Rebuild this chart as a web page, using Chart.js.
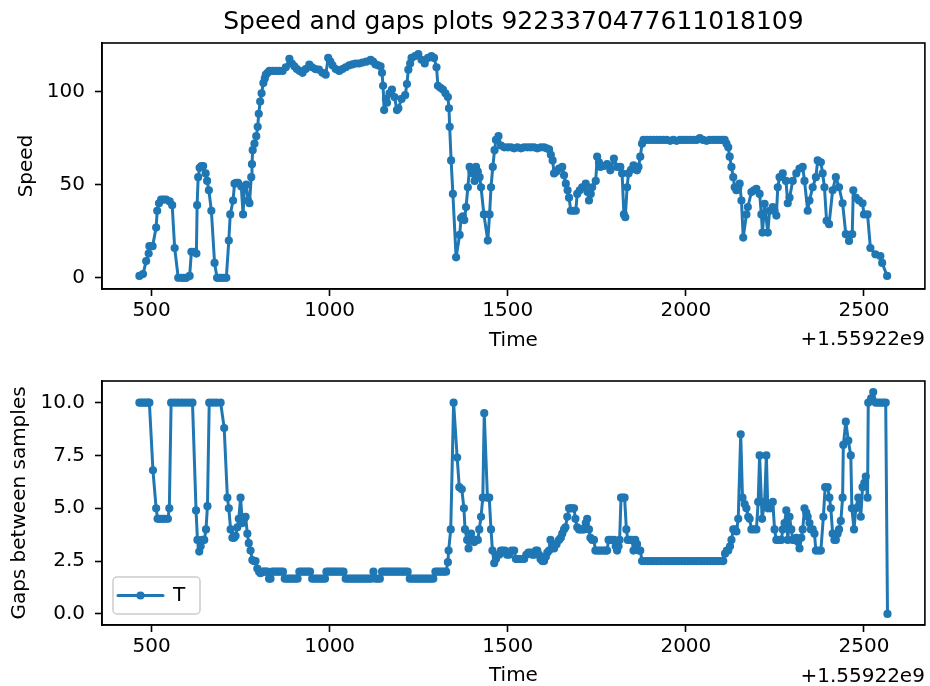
<!DOCTYPE html>
<html>
<head>
<meta charset="utf-8">
<script src="https://cdn.jsdelivr.net/npm/chart.js@4.4.1/dist/chart.umd.min.js"></script>
<style>
html,body{margin:0;padding:0;background:#fff;overflow:hidden;width:930px;height:686px;}
canvas{position:absolute;left:0;}
#c1{top:0;}
#c2{top:355px;}
</style>
</head>
<body>
<canvas id="c1" width="930" height="351"></canvas>
<canvas id="c2" width="930" height="331"></canvas>
<script>
// ---------- data ----------
const TITLE = 'Speed and gaps plots 9223370477611018109';
const OFFSET_TEXT = '+1.55922e9';
const timeTicks = [500, 1000, 1500, 2000, 2500];
const speedTicks = [0, 50, 100];
const gapTicks = [0, 2.5, 5, 7.5, 10];

const speedTime = [
 466,476,485,492,494,503,513,516,521,527,534,541,551,558,565,575,584,591,598,607,
 612,619,626,628,631,635,640,645,652,656,661,668,677,684,690,696,703,710,717,721,
 729,733,738,743,752,757,761,766,771,775,780,782,784,789,794,798,801,805,809,814,
 818,821,826,831,840,849,858,868,877,887,894,901,908,916,924,933,943,951,960,970,
 980,989,996,1002,1008,1017,1027,1036,1045,1055,1064,1073,1082,1092,1103,1115,1122,1129,1136,1143,
 1147,1150,1153,1158,1161,1168,1175,1182,1189,1193,1202,1212,1217,1221,1226,1230,1240,1249,1258,1267,
 1276,1286,1293,1300,1304,1311,1318,1325,1332,1335,1337,1341,1346,1355,1365,1369,1374,1378,1383,1388,
 1393,1398,1402,1407,1411,1416,1421,1425,1433,1444,1449,1453,1458,1463,1467,1474,1481,1490,1500,1509,
 1518,1527,1537,1546,1556,1565,1574,1583,1593,1602,1609,1616,1621,1626,1630,1637,1644,1653,1658,1663,
 1668,1672,1677,1684,1691,1695,1702,1709,1719,1724,1728,1733,1737,1747,1751,1756,1760,1770,1779,1788,
 1798,1807,1816,1821,1826,1830,1835,1839,1846,1853,1863,1867,1872,1877,1881,1890,1900,1909,1918,1928,
 1937,1946,1956,1965,1974,1984,1993,2002,2011,2021,2030,2039,2048,2058,2067,2077,2086,2095,2102,2109,
 2114,2119,2123,2128,2133,2137,2142,2147,2151,2156,2161,2170,2174,2184,2191,2198,2207,2212,2215,2221,
 2230,2235,2244,2249,2254,2258,2263,2272,2281,2286,2291,2300,2310,2319,2328,2333,2342,2347,2356,2365,
 2370,2379,2384,2389,2395,2402,2412,2421,2430,2440,2449,2458,2467,2470,2477,2486,2496,2500,2510,2518,
 2532,2546,2551,2565
];
const speedValue = [
 1,2,9,13,17,17,27,36,40,42,42,42,41,39,16,0,0,0,0,1,
 14,14,13,39,54,59,60,60,56,52,47,36,8,0,0,0,0,0,20,34,
 41.5,50.5,51,51,49,34,49,50,41.5,40,54,61,68.5,72,76,81,88,94.6,99,104.5,
 107,109,110,111,111,111,111,111,113,117.5,115,113.5,112,111,110,112,114.4,113,112,111.7,
 110,109,118,116,114,112,111,112,113,114,114.5,115,115,115.5,116,117,116,114.5,114,113.5,
 110,103,90,96,94,99,101,97,90,91,96,98,104,111.7,115,118,119,120,117,115,
 118,119,118,113,103,102,101,99,97,91,81,63,45,11,23,32,33,31,38,48.6,
 59.5,57,56,52,59.5,57,54,48.6,34,20,34,48.6,59.5,68.5,74,76,71,70,70,70,
 69.5,70,69.5,70,70,70,70,69.5,70,70,69.5,69,66,63,56,57,58.6,59.5,55,50.5,
 47,43,36,36,36,45,47,48.6,50.5,46,41.5,45,48.6,52,65,62,59.5,60,61,57.7,
 64,59.5,59.5,56,34,32.5,48.6,56,58,60.4,57.7,59.5,65,72,74,74,74,74,74,74,
 74,74,73.5,74,73.5,74,74,74,74,74,74,75,74,73.5,74,74,74,74,74,74,
 72,70,65,59.5,54,48.6,47,48,50.5,41.5,21.6,34,38,46,47,47.8,45,34,24.3,39.7,
 24.3,36,38,36,33.4,48.6,54,56,52,40,43,52,56,58.6,59.5,52,36,41.5,48.6,54,
 63,62,56,48.6,30.6,28.8,47,54,48.6,40,23.4,19.8,23.4,47,43,41.5,40,34,34,16,
 12.6,11.7,8,1
];

const gapTime = [
 466,472,478,484,490,494,504,513,517,523,530,537,546,550,555,565,575,585,595,605,
 615,625,629,634,638,643,648,653,657,662,672,682,694,704,713,717,722,727,732,736,
 741,745,750,755,760,764,769,773,778,783,787,792,797,802,806,811,816,820,825,830,
 834,839,845,851,857,863,869,874,880,886,892,898,904,910,915,921,927,933,939,945,
 951,957,963,969,975,981,987,991,997,1003,1009,1015,1021,1027,1033,1039,1045,1051,1057,1063,
 1069,1075,1081,1087,1093,1099,1105,1111,1117,1123,1129,1135,1141,1147,1153,1159,1165,1171,1177,1183,
 1189,1195,1201,1207,1213,1219,1225,1231,1237,1243,1249,1255,1261,1267,1273,1279,1285,1291,1297,1303,
 1309,1315,1321,1327,1332,1334,1340,1348,1358,1364,1371,1377,1380,1386,1390,1397,1402,1406,1411,1416,
 1420,1425,1430,1434,1443,1448,1453,1457,1462,1467,1472,1476,1481,1486,1492,1498,1504,1511,1518,1523,
 1527,1535,1541,1546,1552,1558,1564,1569,1574,1579,1583,1588,1592,1597,1602,1607,1611,1616,1620,1625,
 1630,1637,1644,1649,1653,1658,1662,1667,1672,1677,1681,1686,1690,1695,1700,1704,1709,1714,1719,1723,
 1728,1732,1737,1742,1746,1752,1758,1764,1770,1775,1779,1783,1790,1798,1803,1807,1811,1814,1818,1823,
 1828,1833,1837,1843,1849,1853,1858,1863,1868,1872,1877,1885,1893,1901,1909,1917,1925,1933,1941,1949,
 1957,1965,1973,1981,1989,1997,2005,2013,2021,2029,2037,2045,2053,2061,2069,2077,2085,2093,2100,2105,
 2110,2115,2119,2124,2128,2133,2138,2142,2147,2154,2159,2165,2170,2175,2179,2184,2191,2198,2203,2207,
 2214,2221,2226,2230,2237,2244,2249,2254,2261,2268,2272,2277,2282,2286,2291,2296,2300,2305,2310,2315,
 2319,2324,2328,2333,2338,2342,2347,2351,2356,2361,2365,2372,2379,2386,2391,2398,2403,2407,2412,2417,
 2421,2426,2430,2435,2440,2442,2449,2456,2463,2466,2472,2477,2484,2491,2496,2501,2505,2510,2512,2520,
 2526,2533,2540,2547,2554,2561,2566
];
const gapValue = [
 10,10,10,10,10,10,6.8,5.0,4.5,4.5,4.5,4.5,4.5,5.0,10,10,10,10,10,10,
 10,4.9,3.5,2.95,3.2,3.5,3.5,4.0,5.1,10,10,10,10,8.8,5.5,5.0,4.0,3.6,3.6,3.7,
 4.1,4.5,5.5,4.3,4.5,4.6,3.8,3.35,3.0,2.55,2.5,2.5,2.15,2.0,1.93,2.0,2.0,2.0,2.0,1.67,
 1.67,2.0,2.0,2.0,2.0,2.0,2.0,1.67,1.67,1.67,1.67,1.67,1.67,1.67,2.0,2.0,2.0,2.0,2.0,2.0,
 1.67,1.67,1.67,1.67,1.67,1.67,1.67,2.0,2.0,2.0,2.0,2.0,2.0,2.0,2.0,2.0,1.67,1.67,1.67,1.67,
 1.67,1.67,1.67,1.67,1.67,1.67,1.67,1.67,1.67,2.0,1.67,1.67,1.67,2.0,2.0,2.0,2.0,2.0,2.0,2.0,
 2.0,2.0,2.0,2.0,2.0,2.0,1.67,1.67,1.67,1.67,1.67,1.67,1.67,1.67,1.67,1.67,1.67,1.67,2.0,2.0,
 2.0,2.0,2.0,2.0,2.45,3.0,4.0,10.0,7.4,6.0,5.9,5.0,4.0,3.5,3.1,3.8,3.5,3.4,3.5,3.5,
 4.0,4.6,5.5,9.5,5.5,5.5,4.0,3.0,2.4,2.6,2.8,2.8,3.0,3.0,3.0,2.8,2.8,3.0,3.0,2.6,
 2.6,2.6,2.6,2.6,2.8,2.9,2.9,2.8,2.8,3.0,3.0,2.8,2.6,2.5,2.5,2.7,2.9,3.0,3.5,3.3,
 3.1,3.3,3.5,3.6,3.8,4.0,4.1,4.6,5.0,5.0,5.0,5.0,4.5,4.1,4.0,4.0,4.0,4.0,4.3,4.5,
 4.0,3.6,3.5,3.5,3.0,3.0,3.0,3.0,3.0,3.0,3.0,3.5,3.5,3.5,3.2,3.0,3.2,3.5,5.5,5.5,
 5.5,4.0,3.5,3.5,3.5,3.0,3.5,3.3,3.0,3.0,2.5,2.5,2.5,2.5,2.5,2.5,2.5,2.5,2.5,2.5,
 2.5,2.5,2.5,2.5,2.5,2.5,2.5,2.5,2.5,2.5,2.5,2.5,2.5,2.5,2.5,2.5,2.5,2.5,2.5,2.5,
 2.85,3.0,3.0,3.2,3.5,4.0,4.0,3.9,4.5,8.5,5.5,5.2,5.0,4.6,4.5,4.0,4.0,4.0,5.3,7.5,
 4.5,5.3,7.5,5.0,5.0,5.3,4.0,3.5,3.5,3.5,4.0,4.3,4.9,3.5,4.6,4.0,3.5,3.5,3.6,3.4,
 3.1,3.6,4.0,5.0,4.8,4.6,4.3,4.0,4.0,3.8,3.0,3.0,3.0,4.6,6.0,6.0,5.5,5.0,3.8,3.5,
 3.5,3.8,4.0,4.4,5.5,8.0,9.1,8.2,7.5,5.0,4.0,5.0,5.5,4.6,6.0,6.2,6.5,5.5,10.0,10.2,
 10.5,10.0,10.0,10.0,10.0,10.0,0.0
];

// ---------- helpers ----------
const FONT = "'DejaVu Sans', 'Liberation Sans', sans-serif";
const BLUE = '#1f77b4';
function pts(xs, ys) { return xs.map((x, i) => ({ x: x, y: ys[i] })); }
function padRange(vals) {
  const lo = Math.min(...vals), hi = Math.max(...vals), m = (hi - lo) * 0.05;
  return [lo - m, hi + m];
}
const xr = padRange(speedTime.concat(gapTime));
const yrSpeed = padRange(speedValue);
const yrGap = padRange(gapValue);

const framePlugin = {
  id: 'frame',
  afterDatasetsDraw(chart) {
    const a = chart.chartArea, ctx = chart.ctx;
    ctx.save();
    ctx.strokeStyle = '#000';
    ctx.lineWidth = 1.6;
    ctx.strokeRect(a.left, a.top, a.right - a.left, a.bottom - a.top);
    ctx.restore();
  }
};
const offsetPlugin = {
  id: 'offsetText',
  afterDraw(chart, args, opts) {
    const ctx = chart.ctx;
    ctx.save();
    ctx.font = '20px ' + FONT;
    ctx.fillStyle = '#000';
    ctx.textAlign = 'right';
    ctx.textBaseline = 'middle';
    ctx.fillText(opts.text, chart.chartArea.right, opts.y);
    ctx.restore();
  }
};
const boxLegendPlugin = {
  id: 'boxLegend',
  afterDraw(chart, args, opts) {
    if (!opts.show) return;
    const ctx = chart.ctx, ds = chart.data.datasets[0];
    const x = opts.x, y = opts.y, w = opts.w, h = opts.h, r = 4;
    ctx.save();
    ctx.beginPath();
    ctx.moveTo(x + r, y); ctx.lineTo(x + w - r, y); ctx.arcTo(x + w, y, x + w, y + r, r);
    ctx.lineTo(x + w, y + h - r); ctx.arcTo(x + w, y + h, x + w - r, y + h, r);
    ctx.lineTo(x + r, y + h); ctx.arcTo(x, y + h, x, y + h - r, r);
    ctx.lineTo(x, y + r); ctx.arcTo(x, y, x + r, y, r);
    ctx.closePath();
    ctx.fillStyle = 'rgba(255,255,255,0.8)';
    ctx.fill();
    ctx.strokeStyle = '#cccccc';
    ctx.lineWidth = 1.5;
    ctx.stroke();
    const cy = y + h / 2;
    ctx.strokeStyle = ds.borderColor;
    ctx.lineWidth = ds.borderWidth;
    ctx.lineCap = 'round';
    ctx.beginPath(); ctx.moveTo(x + 5, cy); ctx.lineTo(x + 50, cy); ctx.stroke();
    ctx.fillStyle = ds.pointBackgroundColor;
    ctx.lineWidth = ds.pointBorderWidth;
    ctx.beginPath(); ctx.arc(x + 27.5, cy, ds.pointRadius, 0, Math.PI * 2); ctx.fill(); ctx.stroke();
    ctx.fillStyle = '#000';
    ctx.font = '20px ' + FONT;
    ctx.textAlign = 'left';
    ctx.textBaseline = 'middle';
    ctx.fillText(ds.label, x + 60, cy);
    ctx.restore();
  }
};

function dataset(label, xs, ys) {
  return {
    label: label,
    data: pts(xs, ys),
    borderColor: BLUE,
    backgroundColor: BLUE,
    pointBackgroundColor: BLUE,
    pointBorderColor: BLUE,
    borderWidth: 3,
    borderJoinStyle: 'round',
    borderCapStyle: 'round',
    pointRadius: 3.1,
    pointBorderWidth: 2,
    pointHoverRadius: 3.1,
    tension: 0
  };
}

function axisCommon() {
  return {
    type: 'linear',
    grid: { drawOnChartArea: false, drawTicks: true, tickLength: 7, tickWidth: 1.6, tickColor: '#000' },
    border: { display: true, color: '#000', width: 1.6 }
  };
}

function makeChart(id, cfg) {
  const x = Object.assign(axisCommon(), {
    min: xr[0], max: xr[1],
    afterBuildTicks: s => { s.ticks = timeTicks.map(v => ({ value: v })); },
    afterFit: s => { s.height = cfg.xAxisHeight; },
    ticks: { font: { family: FONT, size: 20 }, color: '#000', padding: 3, maxRotation: 0, autoSkip: false,
             callback: v => String(v) },
    title: { display: true, text: 'Time', color: '#000', font: { family: FONT, size: 20, lineHeight: 1 },
             padding: { top: 0, bottom: 0 } }
  });
  const y = Object.assign(axisCommon(), {
    min: cfg.yRange[0], max: cfg.yRange[1],
    afterBuildTicks: s => { s.ticks = cfg.yTicks.map(v => ({ value: v })); },
    afterFit: s => { s.width = 102; },
    ticks: { font: { family: FONT, size: 20 }, color: '#000', padding: 10, autoSkip: false,
             callback: cfg.yFmt },
    title: { display: true, text: cfg.yTitle, color: '#000', font: { family: FONT, size: 20, lineHeight: 1 },
             padding: { top: cfg.yTitlePad, bottom: 0 } }
  });
  return new Chart(document.getElementById(id), {
    type: 'line',
    data: { datasets: [dataset(cfg.label, cfg.xs, cfg.ys)] },
    options: {
      responsive: false,
      animation: false,
      events: [],
      layout: { padding: { left: 0, right: 1, top: cfg.padTop, bottom: 0 } },
      scales: { x: x, y: y },
      plugins: {
        legend: { display: false },
        tooltip: { enabled: false },
        title: cfg.title ? {
          display: true, text: cfg.title, color: '#000', fullSize: false,
          font: { family: FONT, size: 25, weight: 'normal', lineHeight: 1.2 },
          padding: { top: 7, bottom: 6 }
        } : { display: false },
        offsetText: { text: OFFSET_TEXT, y: cfg.offsetY },
        boxLegend: cfg.legend || { show: false }
      }
    },
    plugins: [framePlugin, offsetPlugin, boxLegendPlugin]
  });
}

makeChart('c1', {
  label: 'Speed', xs: speedTime, ys: speedValue, yRange: yrSpeed, yTicks: speedTicks,
  yFmt: v => String(v), yTitle: 'Speed', yTitlePad: 17, padTop: 0, xAxisHeight: 62,
  title: TITLE, offsetY: 340
});
makeChart('c2', {
  label: 'T', xs: gapTime, ys: gapValue, yRange: yrGap, yTicks: gapTicks,
  yFmt: v => v.toFixed(1), yTitle: 'Gaps between samples', yTitlePad: 10, padTop: 26, xAxisHeight: 61,
  title: null, offsetY: 322,
  legend: { show: true, x: 113, y: 222, w: 87, h: 37 }
});
</script>
</body>
</html>
